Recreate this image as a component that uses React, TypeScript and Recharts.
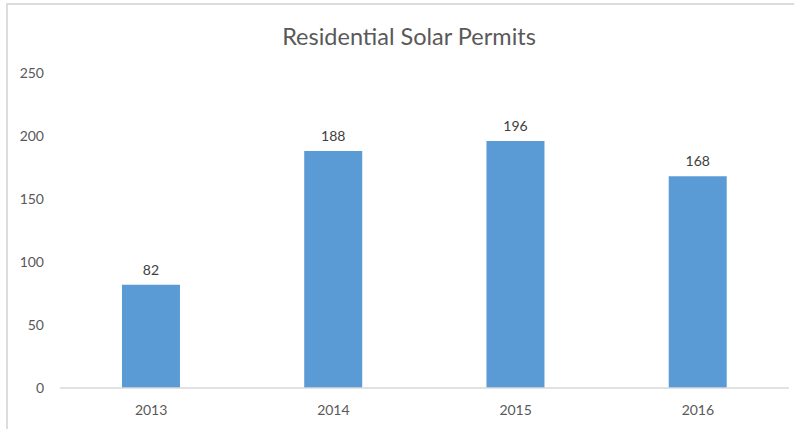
import { BarChart, Bar, XAxis, YAxis, LabelList } from "recharts";

const years = ["2013", "2014", "2015", "2016"];
const permits = [82, 188, 196, 168];
const yTicks = [0, 50, 100, 150, 200, 250];

const data = years.map((year, i) => ({ year, permits: permits[i] }));

const font = "Lato, 'Open Sans', sans-serif";

export default function App() {
  return (
    <div style={{ position: "absolute", left: 0, top: 0, width: 794, height: 429, background: "#fff", fontFamily: font }}>
      {/* chart frame, cut off on the right and bottom */}
      <div
        style={{
          position: "absolute",
          left: 6,
          top: 3,
          width: 794,
          height: 440,
          borderTop: "2px solid #dcdcdc",
          borderLeft: "2px solid #dcdcdc",
          boxSizing: "border-box",
        }}
      />
      <div
        style={{
          position: "absolute",
          left: 0,
          top: 21,
          width: 818,
          textAlign: "center",
          fontSize: 23.5,
          lineHeight: "30px",
          color: "#595959",
        }}
      >
        Residential Solar Permits
      </div>
      <BarChart
        width={794}
        height={429}
        data={data}
        margin={{ top: 73, right: 5, bottom: 11, left: 0 }}
        barCategoryGap="34%"
        style={{ position: "absolute", left: 0, top: 0 }}
      >
        <XAxis
          dataKey="year"
          height={30}
          axisLine={{ stroke: "#d9d9d9", strokeWidth: 1.5 }}
          tickLine={false}
          tickSize={0}
          tickMargin={17}
          tick={{ fill: "#595959", fontSize: 14, fontFamily: font }}
        />
        <YAxis
          width={60}
          domain={[0, 250]}
          ticks={yTicks}
          axisLine={false}
          tickLine={false}
          tickSize={0}
          tickMargin={16}
          tick={{ fill: "#595959", fontSize: 14, fontFamily: font }}
        />
        <Bar dataKey="permits" fill="#5b9bd5" isAnimationActive={false}>
          <LabelList
            dataKey="permits"
            position="top"
            offset={10}
            fill="#404040"
            fontSize={14}
            fontFamily={font}
          />
        </Bar>
      </BarChart>
    </div>
  );
}
